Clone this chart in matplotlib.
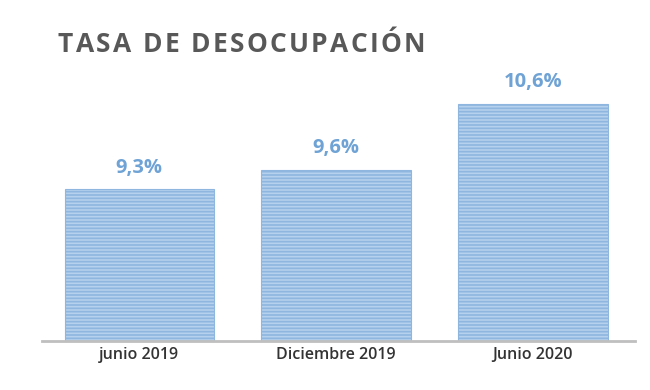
import matplotlib.pyplot as plt

categorias = ['junio 2019', 'Diciembre 2019', 'Junio 2020']
tasas = [9.3, 9.6, 10.6]
etiquetas = ['9,3%', '9,6%', '10,6%']
titulo = 'TASA DE DESOCUPACIÓN'

plt.rcParams['font.family'] = ['Open Sans', 'DejaVu Sans']
plt.rcParams['hatch.color'] = '#8fb6df'
plt.rcParams['hatch.linewidth'] = 1.2

fig = plt.figure(figsize=(6.5, 3.9), dpi=100)
ax = fig.add_axes([0.0646, 0.1256, 0.9124, 0.71])

x = list(range(len(categorias)))
ax.bar(x, tasas, width=0.76, bottom=0, color='#b5d1ed', edgecolor='#8fb6df',
       linewidth=0.8, hatch='-----')

for xi, v, t in zip(x, tasas, etiquetas):
    ax.text(xi, v + 0.18, t, ha='center', va='bottom', fontsize=14.5,
            fontweight='bold', color='#6fa3d5')

ax.set_xlim(-0.495, 2.52)
ax.set_ylim(7.0, 11.2)
ax.set_xticks(x)
ax.set_xticklabels(categorias, fontsize=11.5, fontweight='semibold', color='#333333')
ax.tick_params(axis='x', length=0, pad=4)
ax.set_yticks([])
for s in ['top', 'right', 'left']:
    ax.spines[s].set_visible(False)
ax.spines['bottom'].set_color('#bfbfbf')
ax.spines['bottom'].set_linewidth(2)

# titulo con espaciado entre letras
renderer = fig.canvas.get_renderer()
px = 58.0
espacio = 2.3
for ch in titulo:
    t = fig.text(px / 650, 1 - 45 / 390, ch, fontsize=19, fontweight='bold',
                 color='#585858', ha='left', va='center')
    w = t.get_window_extent(renderer).width
    if ch == ' ':
        w = 7.0
    px += w + espacio

fig.savefig('out.png', dpi=100)
